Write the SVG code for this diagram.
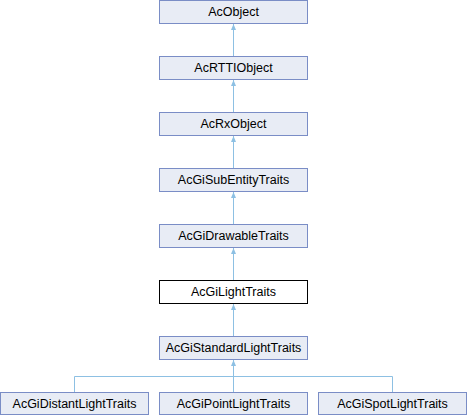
<svg xmlns="http://www.w3.org/2000/svg" width="467" height="416" viewBox="0 0 467 416">
<defs>
<style>
.n rect{fill:#E8ECF5;stroke:#7A8DC6;stroke-width:1}
.n.cur rect{fill:#FFFFFF;stroke:#000000}
.n text{font-family:"Liberation Sans",Arial,sans-serif;font-size:12.5px;fill:#000;text-anchor:middle}
.e{fill:none;stroke:#8DC0E3;stroke-width:1}
</style>
<marker id="ah" markerWidth="8" markerHeight="8" refX="6" refY="4" orient="auto" markerUnits="userSpaceOnUse">
<path d="M0,1.5 L6,4 L0,6.5 Z" fill="#8DC0E3"/>
</marker>
</defs>
<rect width="467" height="416" fill="#FFFFFF"/>
<g id="connectors">
<path class="e" d="M233.5,57 V24" marker-end="url(#ah)"/>
<path class="e" d="M233.5,113 V80" marker-end="url(#ah)"/>
<path class="e" d="M233.5,169 V136" marker-end="url(#ah)"/>
<path class="e" d="M233.5,225 V192" marker-end="url(#ah)"/>
<path class="e" d="M233.5,281 V248" marker-end="url(#ah)"/>
<path class="e" d="M233.5,337 V304" marker-end="url(#ah)"/>
<path class="e" d="M233.5,392 V360" marker-end="url(#ah)"/>
<path class="e" d="M74.5,392 V376.5 H392.5 V392"/>
</g>
<g id="AcObject" class="n"><rect x="159.5" y="0.5" width="148" height="23"/><text x="233.5" y="16">AcObject</text></g>
<g id="AcRTTIObject" class="n"><rect x="159.5" y="56.5" width="148" height="23"/><text x="233.5" y="72">AcRTTIObject</text></g>
<g id="AcRxObject" class="n"><rect x="159.5" y="112.5" width="148" height="23"/><text x="233.5" y="128">AcRxObject</text></g>
<g id="AcGiSubEntityTraits" class="n"><rect x="159.5" y="168.5" width="148" height="23"/><text x="233.5" y="184">AcGiSubEntityTraits</text></g>
<g id="AcGiDrawableTraits" class="n"><rect x="159.5" y="224.5" width="148" height="23"/><text x="233.5" y="240">AcGiDrawableTraits</text></g>
<g id="AcGiLightTraits" class="n cur"><rect x="159.5" y="280.5" width="148" height="23"/><text x="233.5" y="296">AcGiLightTraits</text></g>
<g id="AcGiStandardLightTraits" class="n"><rect x="159.5" y="336.5" width="148" height="23"/><text x="233.5" y="352">AcGiStandardLightTraits</text></g>
<g id="AcGiDistantLightTraits" class="n"><rect x="0.5" y="392.5" width="148" height="22"/><text x="74.5" y="408">AcGiDistantLightTraits</text></g>
<g id="AcGiPointLightTraits" class="n"><rect x="159.5" y="392.5" width="148" height="22"/><text x="233.5" y="408">AcGiPointLightTraits</text></g>
<g id="AcGiSpotLightTraits" class="n"><rect x="318.5" y="392.5" width="148" height="22"/><text x="392.5" y="408">AcGiSpotLightTraits</text></g>
</svg>
